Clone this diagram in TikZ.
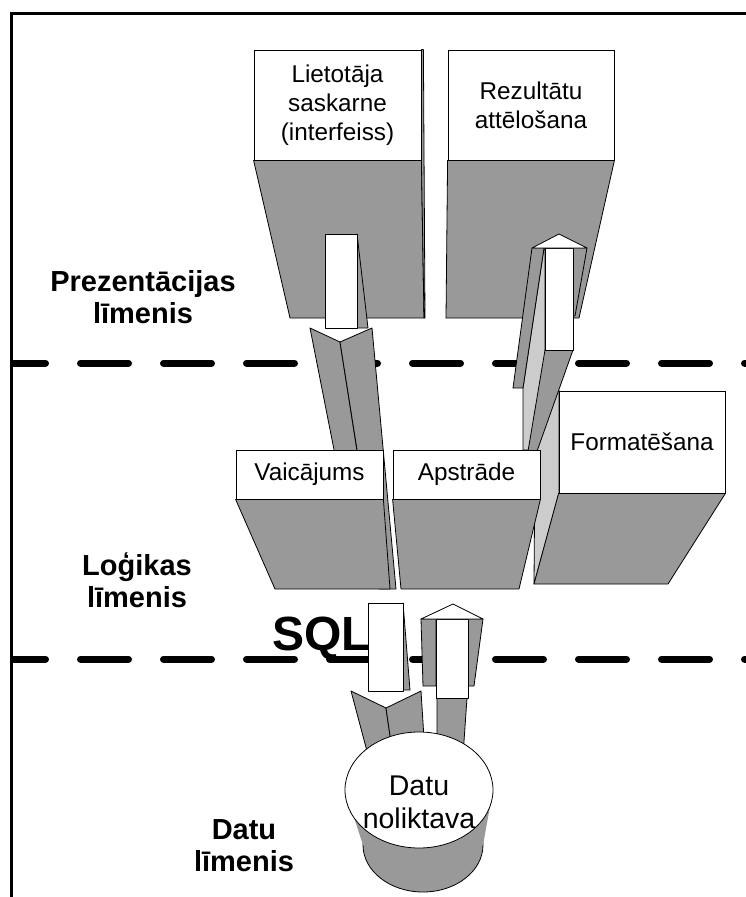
\documentclass[tikz,border=0pt]{standalone}
\usepackage{fontspec}
\setmainfont{Liberation Sans}
\usetikzlibrary{shapes.geometric}
\definecolor{shadegrey}{HTML}{999999}
\definecolor{paleside}{HTML}{CCCCCC}
\tikzset{
  face/.style={draw, fill=white, line width=0.8pt, align=center, inner sep=0pt, font=\fontsize{24.3}{29}\selectfont},
  greyface/.style={fill=shadegrey, draw=black, line width=0.8pt, line join=round},
  paleface/.style={fill=paleside, draw=black, line width=0.8pt, line join=round},
  whitepart/.style={fill=white, draw=black, line width=0.8pt, line join=round},
  levellabel/.style={align=center, inner sep=0pt, font=\bfseries\fontsize{29}{32}\selectfont},
  levelline/.style={line width=7pt, line cap=round, dash pattern=on 48pt off 35pt, dash phase=16pt}
}

\begin{document}
\begin{tikzpicture}[x=1pt, y=-1pt]
\useasboundingbox (0,0) rectangle (746,897);
% Frame
\draw[line width=3pt] (11,897) -- (11,13) -- (746,13);
% Level borders
\foreach \y in {363,659} {
  \draw[levelline] (13.5,\y) -- (746,\y);
}

% Presentation level blocks
\node[face, minimum width=167, minimum height=110] (user) at (337.5,105) {Lietotāja\\saskarne\\(interfeiss)};
\filldraw[greyface] (user.south west) -- (user.south east) -- (424,318) -- (290,318) -- cycle;
\filldraw[greyface] (user.north east) -- ++(2,0) -- (425,318) -- (424,318) -- (user.south east) -- cycle;
\node[face, minimum width=166, minimum height=110] (result) at (531,105) {Rezultātu\\attēlošana};
\filldraw[greyface] (result.south west) -- (result.south east) -- (579,318) -- (446,318) -- cycle;

% Arrow down to the query
\filldraw[greyface] (357,234) -- (368,328) -- (357,328) -- cycle;
\filldraw[greyface] (310,328) -- (340,342) -- (360,470) -- (338,470) -- cycle;
\filldraw[greyface] (340,342) -- (372,328) -- (396,589) -- (379,589) -- cycle;
\filldraw[whitepart] (325,234) rectangle (357,328);

% Arrow up to the results
\filldraw[paleface] (544,248) -- (545,248) -- (545,350) -- (559,391) -- (559,493) -- (534,584) -- (535,450) -- (523,450) -- (523,388) -- cycle;
\filldraw[greyface] (545,350) -- (573,350) -- (520,499) -- cycle;
\filldraw[greyface] (532,248) -- (544,248) -- (523,388) -- (513,388) -- cycle;
\filldraw[greyface] (573,248) -- (587,248) -- (575,316) -- (573,316) -- cycle;
\filldraw[whitepart] (545,248) rectangle (573,350);
\filldraw[whitepart] (532,248) -- (559,234) -- (587,248) -- cycle;

% Logic level blocks
\node[face, minimum width=147, minimum height=49] (query) at (309.5,474.5) {Vaicājums};
\filldraw[greyface] (query.south west) -- (query.south east) -- (390,589) -- (275,589) -- cycle;
\node[face, minimum width=147, minimum height=49] (process) at (466.5,474.5) {Apstrāde};
\filldraw[greyface] (process.south west) -- (process.south east) -- (519,589) -- (401,589) -- cycle;
\node[face, minimum width=166, minimum height=102] (format) at (642,442) {Formatēšana};
\filldraw[greyface] (format.south west) -- (format.south east) -- (668,584) -- (534,584) -- cycle;

% SQL arrows
\filldraw[greyface] (403,603) -- (410,690) -- (403,690) -- cycle;
\filldraw[greyface] (351,691) -- (386,708) -- (395,770) -- (372,770) -- cycle;
\filldraw[greyface] (386,708) -- (421,691) -- (426,770) -- (395,770) -- cycle;
\filldraw[whitepart] (368,603) rectangle (403,691);
\filldraw[greyface] (437,698) -- (467,698) -- (462,770) -- (437,770) -- cycle;
\filldraw[greyface] (421,619) -- (436,619) -- (436,686) -- (423,686) -- cycle;
\filldraw[greyface] (468,619) -- (483,619) -- (474,686) -- (468,686) -- cycle;
\filldraw[whitepart] (436,619) rectangle (468,698);
\filldraw[whitepart] (421,619) -- (453,604) -- (483,619) -- cycle;

% Data store
\filldraw[greyface] (423,845) ellipse [x radius=60, y radius=47];
\fill[shadegrey] (345,790) -- (493,790) -- (483,845) -- (363,845) -- cycle;
\node[ellipse, draw, fill=white, line width=0.8pt, inner sep=0pt, minimum width=148, minimum height=116] (store) at (419,790) {};
\node[align=center, inner sep=0pt, font=\fontsize{28.5}{33}\selectfont] (storetext) at ([yshift=-12pt]store.center) {Datu\\noliktava};

% Level names
\node[levellabel] (presentlevel) at (143,297) {Prezentācijas\\līmenis};
\node[levellabel] (logiclevel) at (137,580) {Loģikas\\līmenis};
\node[levellabel] (datalevel) at (244,846) {Datu\\līmenis};
\node[inner sep=0pt, anchor=base east, font=\bfseries\fontsize{48}{48}\selectfont] (sql) at (371,650) {SQL};
\end{tikzpicture}
\end{document}
